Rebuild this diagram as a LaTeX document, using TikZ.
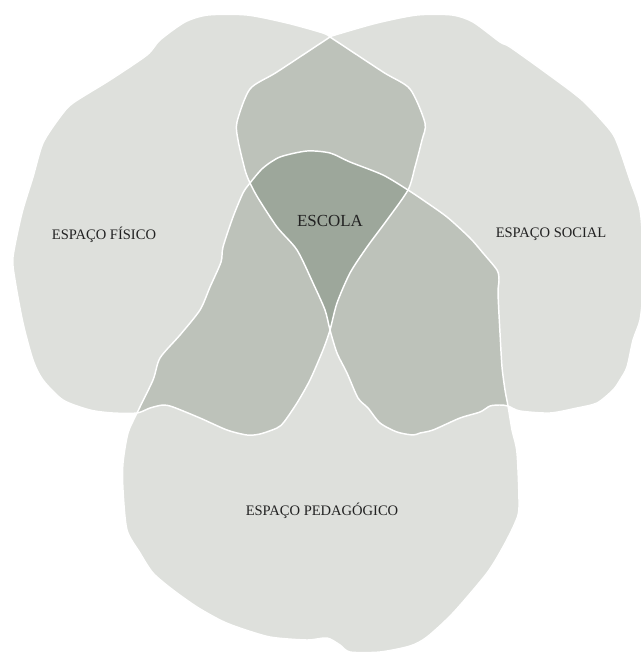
\documentclass[tikz,border=0pt]{standalone}
\usepackage{fontspec}
\setmainfont{Liberation Serif}
\usepackage{tikz}

\definecolor{clarofundo}{RGB}{222,224,220}
\definecolor{medio}{RGB}{189,194,186}
\definecolor{escuro}{RGB}{157,167,155}
\definecolor{texto}{RGB}{34,34,34}

%% contours of the three spaces (pixel units)
\newcommand{\pathfisico}{plot[smooth,tension=.45] coordinates {(330,37) (323,33) (287,23) (247,15) (208,15) (185,22) (160,40) (147,55) (110,80) (73,103) (60,117) (43,143) (33,177) (22,213) (13,257) (15,280) (23,323) (33,360) (43,380) (63,400) (90,410) (113,413) (137,413) (150,408) (163,405) (173,407) (200,418) (227,430) (247,435) (260,434) (277,428) (284,422) (297,403) (310,380) (323,350) (330,330) (337,303) (350,273) (367,247) (387,220) (408,190) (415,167) (422,140) (425,123) (410,89) (383,72) (330,37)} -- cycle}
\newcommand{\pathsocial}{plot[smooth,tension=.45] coordinates {(330,37) (335,35) (377,23) (417,15) (452,15) (473,22) (500,42) (510,47) (545,72) (582,100) (610,130) (618,145) (630,180) (640,210) (643,250) (643,290) (640,320) (633,340) (627,367) (620,380) (613,390) (597,403) (577,408) (550,413) (520,411) (508,406) (500,405) (490,406) (480,412) (460,418) (433,430) (420,433) (413,435) (397,432) (380,423) (368,408) (358,398) (347,373) (337,353) (330,330) (325,310) (313,283) (297,250) (277,227) (258,198) (250,183) (245,170) (238,140) (237,122) (250,89) (277,72) (330,37)} -- cycle}
\newcommand{\pathpedagogico}{plot[smooth cycle,tension=.45] coordinates {(137,413) (153,380) (160,358) (180,335) (200,310) (210,287) (221,262) (223,247) (233,217) (243,193) (250,183) (263,168) (280,157) (307,151) (330,153) (350,162) (383,175) (408,190) (423,200) (447,217) (470,238) (483,253) (497,270) (499,280) (498,293) (500,333) (502,367) (505,390) (508,406) (512,430) (517,453) (519,507) (515,523) (503,547) (487,573) (453,613) (427,637) (410,646) (380,652) (350,652) (340,645) (327,638) (307,640) (270,637) (237,627) (220,620) (197,607) (173,590) (153,573) (140,553) (127,530) (123,490) (123,463) (128,433)}}

\begin{document}
\begin{tikzpicture}[x=.75pt,y=-.75pt,
    area/.style={fill=clarofundo},
    contorno/.style={draw=white,line width=1.1pt,line join=round},
    textoarea/.style={text=texto,font=\fontsize{10.9}{13}\selectfont,inner sep=0pt}]
  \useasboundingbox (0,0) rectangle (640,652);

  %% the three spaces
  \fill[area] \pathfisico;
  \fill[area] \pathsocial;
  \fill[area] \pathpedagogico;

  %% overlaps of two
  \begin{scope}
    \clip \pathfisico;
    \fill[medio] \pathsocial;
    \fill[medio] \pathpedagogico;
  \end{scope}
  \begin{scope}
    \clip \pathsocial;
    \fill[medio] \pathpedagogico;
  \end{scope}

  %% overlap of all three
  \begin{scope}
    \clip \pathfisico;
    \clip \pathsocial;
    \fill[escuro] \pathpedagogico;
  \end{scope}

  %% white borders
  \draw[contorno] \pathfisico;
  \draw[contorno] \pathsocial;
  \draw[contorno] \pathpedagogico;

  %% labels
  \node[textoarea] (fisico) at (104,235) {ESPAÇO FÍSICO};
  \node[textoarea] (social) at (551,234) {ESPAÇO SOCIAL};
  \node[textoarea] (pedagogico) at (322,511) {ESPAÇO PEDAGÓGICO};
  \node[textoarea,font=\fontsize{12.7}{15}\selectfont] (escola) at (330,221) {ESCOLA};
\end{tikzpicture}
\end{document}
